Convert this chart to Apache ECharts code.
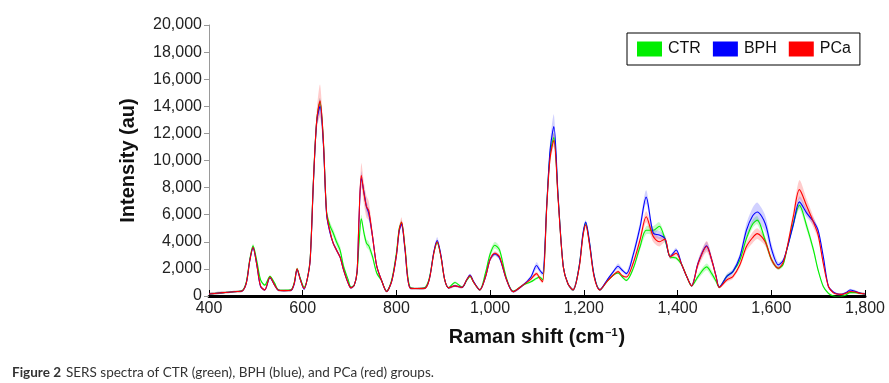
<!DOCTYPE html>
<html><head><meta charset="utf-8">
<script src="https://cdn.jsdelivr.net/npm/echarts@6/dist/echarts.min.js"></script>
<style>html,body{margin:0;padding:0;background:#fff}#c{width:889px;height:383px}</style>
</head><body><div id="c"></div>
<script>
const xs = [400,430,460,472,480,487,494,502,510,519,
530,540,548,560,575,582,588,595,603,610,
616,623,630,637,644,651,658,665,672,680,
687,697,703,710,716,720,725,731,736,741,
749,758,768,779,790,800,806,811,818,829,
845,860,870,880,887,895,903,911,925,940,
950,957,965,978,990,1000,1010,1020,1035,1049,
1070,1087,1099,1106,1112,1121,1128,1136,1145,1156,
1166,1177,1190,1198,1204,1212,1222,1234,1250,1263,
1273,1282,1291,1305,1320,1333,1348,1361,1373,1384,
1397,1409,1420,1430,1444,1462,1473,1482,1489,1505,
1518,1533,1547,1560,1570,1587,1601,1615,1625,1633,
1647,1660,1676,1690,1700,1711,1722,1732,1740,1750,
1760,1768,1780,1789,1800];

const ctr = [150,250,330,420,1100,2700,3700,2600,1200,800,
1450,950,450,420,450,1000,2000,1300,650,1300,
2800,8600,13000,14300,11500,6200,5200,4650,4000,3350,
2200,1200,650,800,1700,3800,5700,4600,3900,3700,
2900,1700,1150,350,1200,3200,5000,5400,3700,650,
550,600,1300,3200,3950,2900,1200,600,1000,650,
1150,1450,1000,450,1700,3100,3750,3400,1300,350,
800,1050,1300,1400,1200,6800,10500,11700,7300,2200,
900,450,2200,4500,5350,3900,1500,450,1100,1550,
1700,1400,1150,2000,3650,4850,4850,5150,4200,2900,
2800,2300,1400,750,1450,2150,1650,1100,650,1450,
1800,2650,4250,5300,5600,4100,2650,2050,2300,3400,
5350,6700,5100,3400,1900,700,200,0,-60,-40,
100,250,250,200,150];

const bph = [150,250,330,400,1000,2600,3550,2300,700,450,
1350,800,430,400,420,900,1950,1200,500,1300,
2700,8500,12900,14000,11300,6000,4700,3900,3400,2850,
1950,950,600,800,1800,5500,8700,7600,6600,6100,
4400,2200,1180,330,1100,3000,4800,5300,3500,600,
550,560,1200,3300,4100,3000,1200,600,750,640,
1200,1550,1050,450,1400,2700,3100,2800,1200,320,
800,1400,2250,1900,1650,6850,10800,12500,7400,2200,
900,450,2200,4600,5450,4000,1500,450,1200,1800,
2200,1900,1650,3000,5100,7300,4650,4500,4250,2900,
3400,2300,1400,750,2450,3700,2650,1500,650,1450,
1800,2900,4850,5900,6200,5350,3400,2300,2600,3400,
5250,6950,6100,5500,4850,2900,700,300,160,120,
250,440,330,220,150];

const pca = [150,250,330,400,1000,2600,3600,2300,750,450,
1400,800,430,400,420,950,2000,1200,550,1300,
2700,8600,13000,14400,11500,6100,4800,3900,3400,2850,
1950,950,600,800,1800,5600,8900,7500,6600,6300,
4400,2200,1180,330,1100,3000,4900,5450,3600,600,
550,560,1200,3200,4000,2900,1200,600,750,640,
1200,1500,1000,450,1400,2700,3150,2900,1200,320,
800,1250,1650,1300,1050,6700,10200,11500,7200,2150,
900,450,2100,4400,5250,3800,1400,450,1100,1550,
1800,1500,1400,2400,4150,5850,4400,4000,4200,2900,
3150,2300,1400,750,2400,3650,2650,1450,640,1180,
1430,2300,3650,4300,4600,4000,2650,2050,2450,3450,
5850,7850,6600,5450,4500,2400,700,250,150,120,
220,330,300,200,150];

const ctrSd = [80,80,80,80,100,120,150,120,80,80,
80,80,80,80,80,80,80,80,80,80,
100,200,250,300,250,200,300,300,300,300,
250,100,80,80,100,200,300,300,300,300,
250,150,80,80,80,120,150,200,150,80,
80,80,80,100,150,100,80,80,80,80,
80,80,80,80,150,250,250,250,120,80,
80,80,100,100,100,250,350,350,250,100,
80,80,100,150,150,150,100,80,80,80,
80,80,80,150,250,300,300,300,250,150,
120,100,80,80,200,250,250,150,80,100,
100,150,250,300,300,300,200,120,120,150,
250,300,300,250,150,100,80,80,80,80,
80,80,80,80,80];

const bphSd = [80,80,80,80,100,120,150,120,80,80,
80,80,80,80,80,80,100,80,80,80,
100,250,450,600,400,200,150,150,150,120,
100,80,80,80,100,250,500,400,400,400,
250,120,80,80,80,120,150,200,150,80,
80,80,80,150,250,150,80,80,80,80,
80,100,80,80,100,150,150,150,100,80,
80,150,250,200,150,400,600,900,400,150,
80,80,100,150,150,150,100,80,80,120,
200,150,120,300,400,500,300,300,250,150,
150,100,80,80,200,300,200,150,80,200,
200,250,500,600,700,600,400,200,150,150,
250,400,300,250,200,150,100,80,80,80,
80,100,100,80,80];

const pcaSd = [80,80,80,80,100,120,150,120,80,80,
80,80,80,80,80,80,100,80,80,80,
150,400,700,1200,700,300,150,150,150,120,
100,80,80,80,150,500,900,800,800,700,
400,150,80,80,80,150,250,350,200,80,
80,80,80,100,150,100,80,80,80,80,
80,80,80,80,100,150,150,150,100,80,
80,100,150,150,100,300,400,500,300,120,
80,80,100,150,200,150,100,80,80,80,
120,100,100,200,300,400,400,350,250,150,
150,100,80,80,300,400,300,150,80,150,
150,200,300,400,400,300,200,120,150,200,
400,700,500,400,300,200,100,80,80,80,
80,80,80,80,80];

const groupNames = ['CTR', 'BPH', 'PCa'];
const lineColors = ['#00ee00', '#0000ff', '#ff0000'];
const bandColors = ['rgba(0,230,0,0.22)', 'rgba(70,70,255,0.25)', 'rgba(255,50,50,0.25)'];
const yTicks = [0,2000,4000,6000,8000,10000,12000,14000,16000,18000,20000];
const xTicks = [400,600,800,1000,1200,1400,1600,1800];

const means = [ctr, bph, pca];
const sds = [ctrSd, bphSd, pcaSd];
const fmt = v => Number(v).toLocaleString('en-US');

const series = [];
groupNames.forEach((name, g) => {
  const m = means[g], s = sds[g];
  const bandData = xs.map((x, i) => [x, m[i] - s[i], m[i] + s[i]]);
  series.push({
    type: 'custom', name: name + ' band', silent: true, clip: true, z: 1,
    encode: {x: 0, y: [1, 2]},
    data: bandData,
    renderItem: function (params, api) {
      if (params.dataIndex !== 0) return null;
      const upper = bandData.map(d => api.coord([d[0], d[2]]));
      const lower = bandData.map(d => api.coord([d[0], d[1]])).reverse();
      return {
        type: 'polygon',
        shape: {points: upper.concat(lower), smooth: 0.25},
        style: {fill: bandColors[g], stroke: null}
      };
    }
  });
});
groupNames.forEach((name, g) => {
  series.push({
    type: 'line', name: name,
    data: xs.map((x, i) => [x, means[g][i]]),
    showSymbol: false, symbol: 'none', smooth: 0.3,
    lineStyle: {color: lineColors[g], width: 1.1},
    itemStyle: {color: lineColors[g]}, z: 3 + g
  });
});

const font = "'Liberation Sans', Arial, sans-serif";
const chart = echarts.init(document.getElementById('c'), null, {renderer: 'canvas'});
chart.setOption({
  animation: false,
  backgroundColor: '#fff',
  title: {
    text: '{b|Figure 2} {n|SERS spectra of CTR (green), BPH (blue), and PCa (red) groups.}',
    left: 12, top: 364, padding: 0,
    textStyle: {
      fontWeight: 'normal',
      rich: {
        b: {fontFamily: 'Lato, sans-serif', fontWeight: 'bold', fontSize: 13.5, color: '#333'},
        n: {fontFamily: 'Lato, sans-serif', fontWeight: 'normal', fontSize: 13.5, color: '#333'}
      }
    }
  },
  legend: {
    data: groupNames,
    left: 627, top: 33,
    padding: [8, 9, 8, 10],
    itemGap: 12, itemWidth: 25, itemHeight: 15,
    icon: 'rect',
    borderColor: '#000', borderWidth: 1, borderRadius: 0,
    backgroundColor: '#fff',
    textStyle: {fontFamily: font, fontSize: 16, color: '#111', padding: [0, 0, 0, 1]}
  },
  grid: {left: 209, right: 24, top: 25, bottom: 87, containLabel: false},
  xAxis: {
    type: 'value', min: xTicks[0], max: xTicks[xTicks.length - 1], interval: 200,
    name: '{t|Raman shift (cm}{s|–1}{t|)}',
    nameLocation: 'middle', nameGap: 31,
    nameTextStyle: {
      rich: {
        t: {fontFamily: font, fontWeight: 'bold', fontSize: 20, color: '#111'},
        s: {fontFamily: font, fontWeight: 'bold', fontSize: 11, color: '#111', verticalAlign: 'top', padding: [0, 1, 10, 1]}
      }
    },
    axisLine: {show: true, onZero: false, lineStyle: {color: '#000', width: 3}},
    axisTick: {show: true, inside: true, length: 6, lineStyle: {color: '#000', width: 1}},
    axisLabel: {fontFamily: font, fontSize: 16, color: '#222', margin: 5, formatter: fmt},
    splitLine: {show: false}
  },
  yAxis: {
    type: 'value', min: yTicks[0], max: yTicks[yTicks.length - 1], interval: 2000,
    name: 'Intensity (au)', nameLocation: 'middle', nameGap: 71,
    nameTextStyle: {fontFamily: font, fontWeight: 'bold', fontSize: 20, color: '#111'},
    axisLine: {show: true, lineStyle: {color: '#999', width: 1}},
    axisTick: {show: true, inside: false, length: 5, lineStyle: {color: '#999'}},
    axisLabel: {fontFamily: font, fontSize: 16, color: '#222', margin: 7, formatter: fmt},
    splitLine: {show: false}
  },
  series: series
});
</script>
</body></html>
